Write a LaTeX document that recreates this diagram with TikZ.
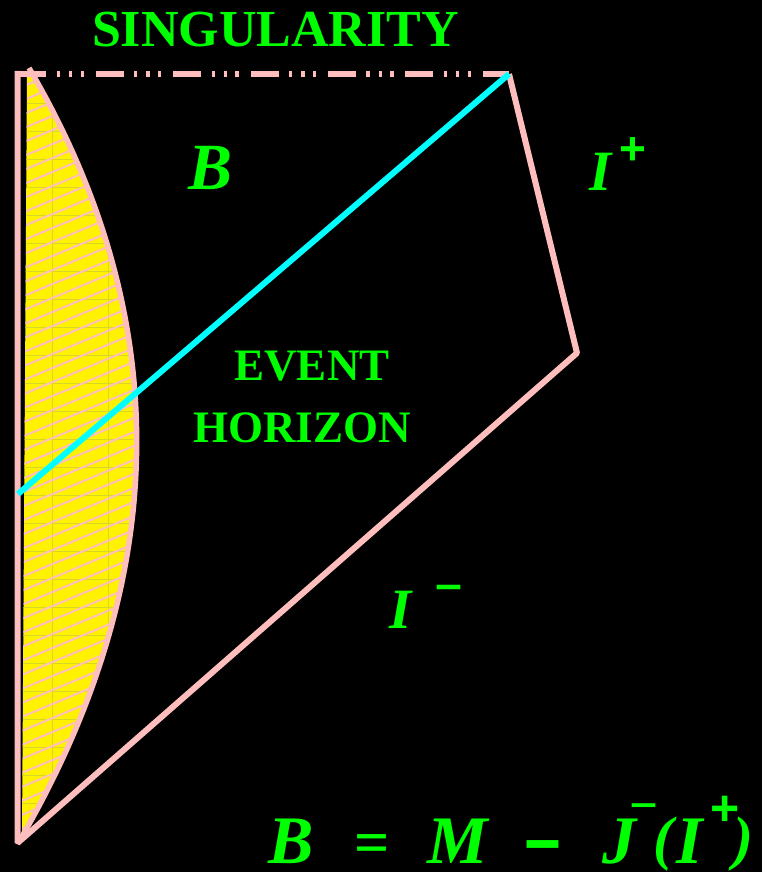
\documentclass[tikz,border=0pt]{standalone}
\usepackage{fontspec}
\setmainfont{Liberation Serif}
\setsansfont{Liberation Sans}
\usepackage{graphicx}
\definecolor{pink1}{RGB}{255,190,190}
\definecolor{hgreen}{RGB}{0,255,0}
\definecolor{hcyan}{RGB}{0,255,255}
\definecolor{gridy}{RGB}{215,215,40}
\begin{document}
\begin{tikzpicture}[x=1pt,y=-1pt,
  pinkline/.style={draw=pink1, line width=6pt},
  lbl/.style={text=hgreen, inner sep=0pt, anchor=base},
  sz/.style={font=\bfseries\fontsize{#1}{#1}\selectfont},
  szs/.style={font=\sffamily\bfseries\fontsize{#1}{#1}\selectfont},
  szi/.style={font=\bfseries\itshape\fontsize{#1}{#1}\selectfont}]
\fill[black] (0,0) rectangle (762,872);
\useasboundingbox (0,0) rectangle (762,872);
\coordinate (TL) at (17.5,71);
\coordinate (BL) at (17.5,843);
\coordinate (TR) at (509,74);
\coordinate (R) at (577,353);
\coordinate (CT) at (29,68);
\coordinate (CB) at (20,840);
\coordinate (CY) at (18,494);
\coordinate (DS) at (18.4,74);
% yellow region
\fill[yellow] (27,74) -- (CT) .. controls (174,315) and (174,575) .. (CB) -- (22,836) -- cycle;
\begin{scope}
\clip (27,74) -- (CT) .. controls (174,315) and (174,575) .. (CB) -- (22,836) -- cycle;
\foreach \k in {0,...,28} \draw[gridy, line width=0.8pt] (0,75+28*\k) -- (160,75+28*\k);
\foreach \xx in {52,108} \draw[gridy, line width=0.8pt] (\xx,60) -- (\xx,850);
\foreach \k in {0,...,75} \draw[pink1, line width=2pt] (0,40+14*\k) -- (160,40+14*\k-67);
\end{scope}
\draw[pinkline, line width=5.5pt] (CT) .. controls (174,315) and (174,575) .. (CB);
% boundary
\draw[pinkline, line join=bevel] (TL) -- (BL) -- (R) -- (TR);
\draw[pinkline, dash pattern=on 28pt off 10.3pt on 3.3pt off 9pt on 3.3pt off 8.3pt on 3.3pt off 11.9pt] (DS) -- (TR);
% horizon
\draw[hcyan, line width=6pt] (CY) -- (TR);
% labels
\node[lbl, sz=52] (sing) at (275.5,47) {SINGULARITY};
\node[lbl, szi=66] (bB) at (211,189) {B};
\node[lbl, szi=57] (iplus) at (601,190) {I};
\node[lbl, szs=46] (plus1) at (633,164) {+};
\node[lbl, szi=57] (iminus) at (401,628) {I};
\node[lbl, sz=46] (minus1) at (448.5,602.6) {\scalebox{1}[1.4]{–}};
\node[lbl, sz=45] (ev) at (312,380) {EVENT};
\node[lbl, sz=45] (hor) at (302,442) {HORIZON};
% formula
\node[lbl, szi=68] (fB) at (291,863) {B};
\node[lbl, sz=62] (feq) at (372.5,863.6) {=};
\node[lbl, szi=68] (fM) at (458,863) {M};
\node[lbl, sz=62] (fminus) at (542.5,870) {\scalebox{1}[1.8]{–}};
\node[lbl, szi=68] (fJ) at (619,863) {J};
\node[lbl, sz=46] (fbar) at (643.5,818) {\scalebox{1}[1.2]{–}};
\node[lbl, szi=60] (flp) at (663,858) {(};
\node[lbl, szi=68] (fI) at (690,863) {I};
\node[lbl, szs=50] (fplus) at (725,825) {+};
\node[lbl, szi=60] (frp) at (743,858) {)};
\end{tikzpicture}
\end{document}
